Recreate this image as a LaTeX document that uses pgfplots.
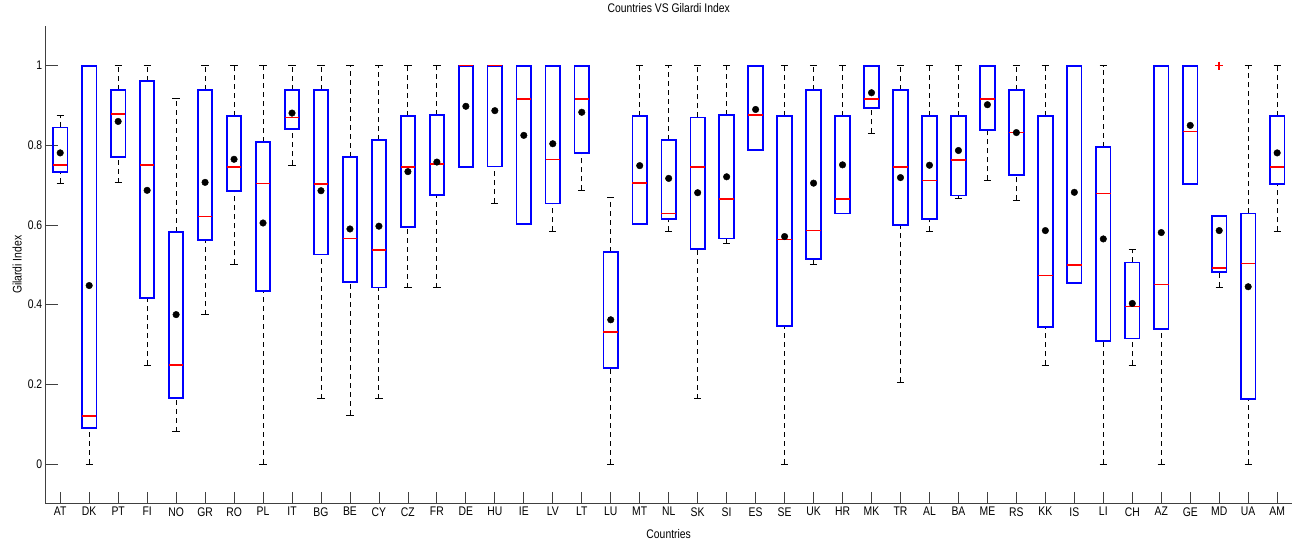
\documentclass[border=0pt]{standalone}
\usepackage{fontspec}
\setmainfont{Liberation Sans}[FakeStretch=0.83]
\usepackage{pgfplots}
\pgfplotsset{compat=1.18}
% #1 position, #2 lower whisker, #3 lower quartile, #4 median, #5 upper quartile, #6 upper whisker
\gdef\boxlist{}\gdef\medlist{}\gdef\whlist{}\gdef\caplist{}
\newcommand{\bx}[6]{%
  \pgfmathsetmacro\bxL{#1-0.25}\pgfmathsetmacro\bxR{#1+0.25}%
  \pgfmathsetmacro\capL{#1-0.125}\pgfmathsetmacro\capR{#1+0.125}%
  \xdef\boxlist{\boxlist (\bxL,#3) (\bxR,#3) (\bxR,#5) (\bxL,#5) (\bxL,#3) (\bxR,#3) (#1,nan)}%
  \xdef\medlist{\medlist (\bxL,#4) (\bxR,#4) (#1,nan)}%
  \xdef\whlist{\whlist (#1,#2) (#1,#3) (#1,nan) (#1,#5) (#1,#6) (#1,nan)}%
  \xdef\caplist{\caplist (\capL,#2) (\capR,#2) (#1,nan) (\capL,#6) (\capR,#6) (#1,nan)}%
}
\bx{1}{0.705}{0.733}{0.750}{0.845}{0.876}
\bx{2}{0}{0.090}{0.120}{1}{1}
\bx{3}{0.706}{0.771}{0.879}{0.939}{1}
\bx{4}{0.248}{0.416}{0.750}{0.961}{1}
\bx{5}{0.081}{0.166}{0.248}{0.583}{0.917}
\bx{6}{0.375}{0.562}{0.621}{0.939}{1}
\bx{7}{0.501}{0.685}{0.745}{0.873}{1}
\bx{8}{0}{0.435}{0.704}{0.808}{1}
\bx{9}{0.750}{0.841}{0.870}{0.939}{1}
\bx{10}{0.164}{0.526}{0.703}{0.939}{1}
\bx{11}{0.123}{0.456}{0.566}{0.771}{1}
\bx{12}{0.164}{0.443}{0.537}{0.813}{1}
\bx{13}{0.443}{0.594}{0.745}{0.873}{1}
\bx{14}{0.443}{0.676}{0.753}{0.876}{1}
\bx{15}{0.745}{0.745}{1}{1}{1}
\bx{16}{0.655}{0.747}{1}{1}{1}
\bx{17}{0.602}{0.602}{0.917}{1}{1}
\bx{18}{0.584}{0.654}{0.764}{1}{1}
\bx{19}{0.687}{0.781}{0.917}{1}{1}
\bx{20}{0}{0.240}{0.331}{0.533}{0.668}
\bx{21}{0.602}{0.602}{0.706}{0.873}{1}
\bx{22}{0.584}{0.616}{0.629}{0.813}{1}
\bx{23}{0.164}{0.539}{0.745}{0.870}{1}
\bx{24}{0.553}{0.566}{0.665}{0.876}{1}
\bx{25}{0.788}{0.788}{0.876}{1}{1}
\bx{26}{0}{0.347}{0.564}{0.873}{1}
\bx{27}{0.501}{0.514}{0.586}{0.939}{1}
\bx{28}{0.629}{0.629}{0.665}{0.873}{1}
\bx{29}{0.830}{0.893}{0.917}{1}{1}
\bx{30}{0.205}{0.599}{0.745}{0.939}{1}
\bx{31}{0.584}{0.616}{0.712}{0.873}{1}
\bx{32}{0.666}{0.674}{0.763}{0.873}{1}
\bx{33}{0.712}{0.838}{0.917}{1}{1}
\bx{34}{0.662}{0.726}{0.832}{0.939}{1}
\bx{35}{0.248}{0.343}{0.473}{0.873}{1}
\bx{36}{0.454}{0.454}{0.500}{1}{1}
\bx{37}{0}{0.309}{0.679}{0.796}{1}
\bx{38}{0.248}{0.315}{0.395}{0.506}{0.539}
\bx{39}{0}{0.339}{0.451}{1}{1}
\bx{40}{0.703}{0.703}{0.835}{1}{1}
\bx{41}{0.444}{0.481}{0.492}{0.623}{0.623}
\bx{42}{0}{0.164}{0.503}{0.629}{1}
\bx{43}{0.584}{0.703}{0.745}{0.873}{1}
\begin{document}
\begin{tikzpicture}
\begin{axis}[
  scale only axis, width=1246bp, height=478bp,
  xmin=0.5, xmax=43.5, ymin=-0.1, ymax=1.1,
  clip=false, unbounded coords=jump,
  axis x line*=bottom, axis y line*=left,
  axis line style={draw=black!75, line width=0.8bp, -},
  tick style={draw=black!75, line width=0.8bp},
  tick align=inside, major tick length=12bp,
  xtick={1,...,43},
  xticklabels={AT,DK,PT,FI,NO,GR,RO,PL,IT,BG,BE,CY,CZ,FR,DE,HU,IE,LV,LT,LU,MT,NL,SK,SI,ES,SE,UK,HR,MK,TR,AL,BA,ME,RS,KK,IS,LI,CH,AZ,GE,MD,UA,AM},
  ytick={0,0.2,0.4,0.6,0.8,1},
  yticklabels={0,0.2,0.4,0.6,0.8,1},
  font=\fontsize{12.5bp}{14bp}\selectfont,
  ticklabel style={font=\fontsize{12.5bp}{14bp}\selectfont},
  /pgf/number format/assume math mode=true,
  title={Countries VS Gilardi Index},
  title style={at={(axis description cs:0.5,1.025)}, anchor=center},
  xlabel={Countries},
  xlabel style={at={(axis description cs:0.5,-0.063)}, anchor=center},
  ylabel={Gilardi Index},
  every axis y label/.style={at={(axis description cs:-0.023,0.5)}, rotate=90, anchor=center},
]
\path (axis description cs:-0.0367,-0.0774) rectangle (axis description cs:1.0035,1.0502);
\edef\tmp{\noexpand\addplot[\unexpanded{draw=black, mark=none, line width=0.9bp, dash pattern=on 5bp off 4bp}] coordinates {\whlist};}\tmp
\edef\tmp{\noexpand\addplot[\unexpanded{draw=black, mark=none, line width=0.9bp}] coordinates {\caplist};}\tmp
\edef\tmp{\noexpand\addplot[\unexpanded{draw=blue, mark=none, line width=1.8bp, line join=miter}] coordinates {\boxlist};}\tmp
\edef\tmp{\noexpand\addplot[\unexpanded{draw=red, mark=none, line width=1.6bp}] coordinates {\medlist};}\tmp
\addplot[only marks, mark=+, draw=red, mark size=4bp, line width=1.5bp] coordinates {(41,1)};
\addplot[only marks, mark=*, mark size=3.3bp, draw=black, fill=black] coordinates {
(1,0.781)(2,0.448)(3,0.860)(4,0.687)(5,0.375)(6,0.707)(7,0.765)(8,0.605)(9,0.881)(10,0.686)
(11,0.590)(12,0.597)(13,0.734)(14,0.758)(15,0.898)(16,0.887)(17,0.825)(18,0.804)(19,0.883)(20,0.362)
(21,0.749)(22,0.717)(23,0.681)(24,0.721)(25,0.890)(26,0.571)(27,0.705)(28,0.751)(29,0.932)(30,0.719)
(31,0.750)(32,0.787)(33,0.902)(34,0.832)(35,0.586)(36,0.682)(37,0.565)(38,0.403)(39,0.581)(40,0.850)
(41,0.586)(42,0.445)(43,0.781)};
\end{axis}
\end{tikzpicture}
\end{document}
